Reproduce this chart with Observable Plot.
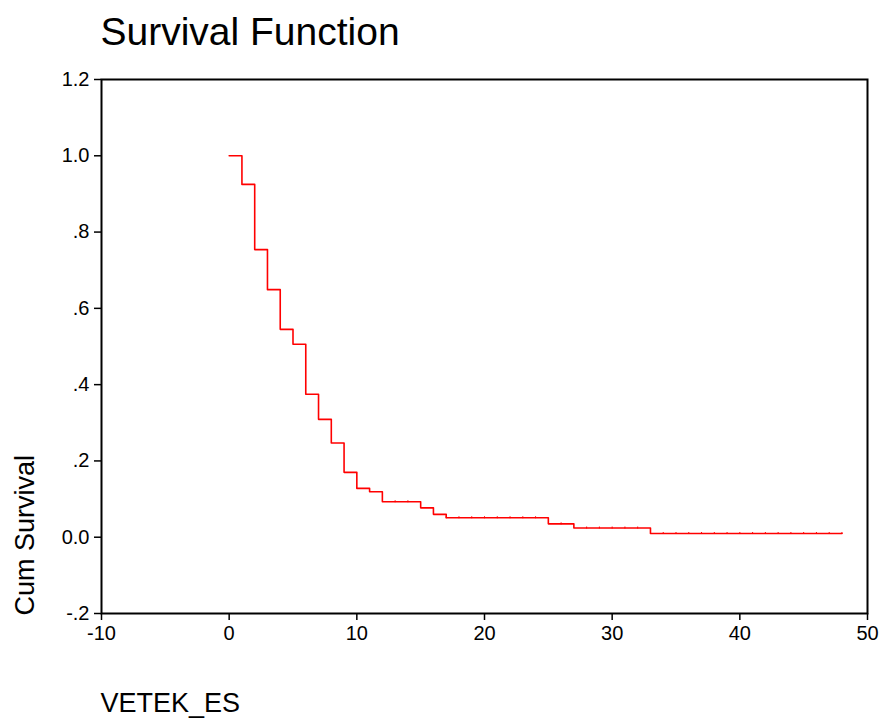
<!DOCTYPE html>
<html>
<head>
<meta charset="utf-8">
<script src="https://cdn.jsdelivr.net/npm/d3@7"></script>
<script src="https://cdn.jsdelivr.net/npm/@observablehq/plot@0.6"></script>
<style>
  html, body { margin: 0; padding: 0; background: white; overflow: hidden; }
</style>
</head>
<body>
<div id="chart"></div>
<script>
const titleText = "Survival Function";
const xLabel = "VETEK_ES";
const yLabel = "Cum Survival";

// Step points of the survival function (time, cumulative survival)
const times = [0, 1, 2, 3, 4, 5, 6, 7, 8, 9, 10, 11, 12, 15, 16, 17, 25, 27, 33, 48];
const surv  = [1.0, 0.925, 0.754, 0.649, 0.545, 0.506, 0.375, 0.309, 0.247, 0.170,
               0.128, 0.119, 0.093, 0.077, 0.060, 0.051, 0.035, 0.024, 0.0097, 0.0097];

// Censored observations (small tick marks on the curve)
const censorTimes = [13, 14, 17, 18, 19, 20, 21, 22, 23, 24, 26, 28, 29, 30, 31, 32,
                     34, 35, 36, 37, 38, 39, 40, 41, 42, 43, 44, 45, 46, 47, 48];
const censorSurv  = [0.093, 0.093, 0.051, 0.051, 0.051, 0.051, 0.051, 0.051, 0.051, 0.051,
                     0.035, 0.024, 0.024, 0.024, 0.024, 0.024,
                     0.0097, 0.0097, 0.0097, 0.0097, 0.0097, 0.0097, 0.0097, 0.0097,
                     0.0097, 0.0097, 0.0097, 0.0097, 0.0097, 0.0097, 0.0097];

const xTicks = [-10, 0, 10, 20, 30, 40, 50];
const yTicks = [-0.2, 0, 0.2, 0.4, 0.6, 0.8, 1.0, 1.2];
const yTickLabels = ["-.2", "0.0", ".2", ".4", ".6", ".8", "1.0", "1.2"];

const font = "'Liberation Sans', Arial, Helvetica, sans-serif";

const chart = Plot.plot({
  width: 881,
  height: 718,
  marginLeft: 101,
  marginTop: 79,
  marginRight: 14,
  marginBottom: 105,
  style: { fontFamily: font, fontSize: "20px", background: "white", color: "black", overflow: "visible" },
  x: { domain: [-10, 50] },
  y: { domain: [-0.2, 1.2] },
  marks: [
    Plot.axisX({
      ticks: xTicks, tickFormat: d => String(d), tickSize: 7, tickPadding: 5,
      fontSize: 20, label: null, strokeWidth: 1.5
    }),
    Plot.axisY({
      ticks: yTicks, tickFormat: d => yTickLabels[yTicks.indexOf(d)], tickSize: 7, tickPadding: 5,
      fontSize: 20, label: null, strokeWidth: 1.5
    }),
    Plot.line(times, {
      x: times, y: surv, curve: "step-after",
      stroke: "#ff0000", strokeWidth: 1.6
    }),
    Plot.ruleX(censorTimes, {
      x: censorTimes, y1: censorSurv, y2: censorSurv,
      insetTop: -1, insetBottom: -1, stroke: "#ff0000", strokeWidth: 1
    }),
    Plot.frame({ stroke: "black", strokeWidth: 2 }),
    Plot.text([titleText], {
      text: d => d, frameAnchor: "top-left", textAnchor: "start", lineAnchor: "bottom",
      dx: -1, dy: -35, fontSize: 39, fill: "black"
    }),
    Plot.text([yLabel], {
      text: d => d, frameAnchor: "bottom-left", textAnchor: "start", lineAnchor: "bottom",
      rotate: -90, dx: -68, dy: 2, fontSize: 27, fill: "black"
    }),
    Plot.text([xLabel], {
      text: d => d, frameAnchor: "bottom-left", textAnchor: "start", lineAnchor: "bottom",
      dx: -1, dy: 98, fontSize: 27, fill: "black"
    })
  ]
});

document.getElementById("chart").appendChild(chart);
</script>
</body>
</html>
